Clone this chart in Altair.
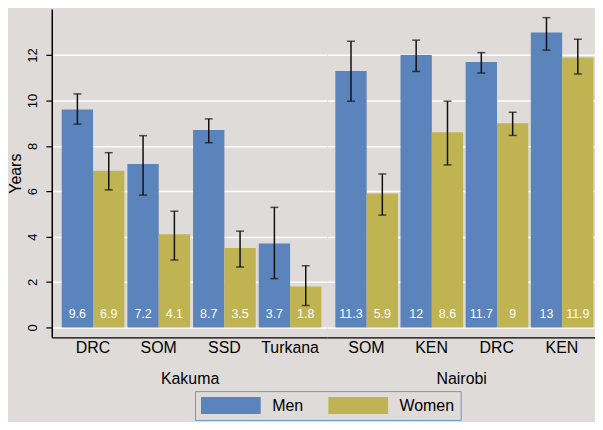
import altair as alt
import pandas as pd

places = ["Kakuma", "Kakuma", "Kakuma", "Kakuma", "Nairobi", "Nairobi", "Nairobi", "Nairobi"]
origins = ["DRC", "SOM", "SSD", "Turkana", "SOM", "KEN", "DRC", "KEN"]
sexes = ["Men", "Women"]
men = [9.6, 7.2, 8.7, 3.7, 11.3, 12, 11.7, 13]
women = [6.9, 4.1, 3.5, 1.8, 5.9, 8.6, 9, 11.9]
men_lo = [8.96, 5.83, 8.14, 2.15, 9.97, 11.28, 11.21, 12.22]
men_hi = [10.29, 8.45, 9.19, 5.29, 12.61, 12.66, 12.11, 13.65]
women_lo = [6.06, 2.97, 2.66, 0.96, 4.95, 7.16, 8.46, 11.17]
women_hi = [7.70, 5.12, 4.24, 2.72, 6.76, 9.97, 9.48, 12.70]
y_ticks = [0, 2, 4, 6, 8, 10, 12]

rows = []
for i in range(len(origins)):
    key = f"{i}:{origins[i]}"
    rows.append(dict(place=places[i], key=key, sex="Men", value=men[i], lo=men_lo[i], hi=men_hi[i]))
    rows.append(dict(place=places[i], key=key, sex="Women", value=women[i], lo=women_lo[i], hi=women_hi[i]))
df = pd.DataFrame(rows)

BG = "#DFDBD8"
FONT = "Liberation Sans"
y_scale = alt.Scale(domain=[-0.44, 14.03], nice=False, zero=False)
color_scale = alt.Scale(domain=sexes, range=["#5A84BB", "#C0B452"])


def panel(place, show_y, width, pad_outer, align):
    sub = df[df["place"] == place]
    x_enc = alt.X(
        "key:N",
        scale=alt.Scale(paddingInner=0.0455, paddingOuter=pad_outer, align=align),
        axis=alt.Axis(
            title=place, labelExpr="split(datum.label, ':')[1]", labelAngle=0, ticks=False,
            labelFontSize=16, labelPadding=2, labelColor="black", domainColor="black",
            domainWidth=1.5, grid=False, titleFontSize=16, titleFontWeight="normal",
            titleColor="black", titlePadding=15,
        ),
    )
    xo_enc = alt.XOffset("sex:N", scale=alt.Scale(paddingInner=0, paddingOuter=0))
    if show_y:
        y_axis = alt.Axis(
            values=y_ticks, labelAngle=270, labelAlign="center", labelBaseline="bottom",
            labelFontSize=13, labelPadding=6, labelColor="black", tickSize=6,
            tickColor="black", tickWidth=1.2, domainColor="black", domainWidth=1.5,
            grid=True, gridColor="white", gridWidth=1.5, title="Years",
            titleFontSize=16, titleFontWeight="normal", titlePadding=3, titleColor="black",
        )
    else:
        y_axis = alt.Axis(
            values=y_ticks, labels=False, ticks=False, domain=False, grid=True,
            gridColor="white", gridWidth=1.5, title=None,
        )
    base = alt.Chart(sub)
    bars = base.mark_bar().encode(
        x=x_enc,
        xOffset=xo_enc,
        y=alt.Y("value:Q", scale=y_scale, axis=y_axis),
        y2=alt.datum(0),
        color=alt.Color(
            "sex:N", scale=color_scale,
            legend=alt.Legend(
                orient="none", legendX=144, legendY=384, direction="horizontal", title=None,
                symbolType="M-3.53,-1L3.53,-1L3.53,1L-3.53,1Z", symbolSize=289,
                symbolOffset=21.5, symbolStrokeWidth=0, labelFontSize=16, labelOffset=33,
                columnPadding=24, padding=6, strokeColor="#6E95CE", fillColor=BG,
                labelColor="black",
            ),
        ),
    )
    rules = base.mark_rule(color="#111111", strokeWidth=1.5).encode(
        x=alt.X("key:N"), xOffset=alt.XOffset("sex:N"), y="lo:Q", y2="hi:Q"
    )
    caps_lo = base.mark_tick(color="#111111", size=8, thickness=1.5).encode(
        x=alt.X("key:N"), xOffset=alt.XOffset("sex:N"), y="lo:Q"
    )
    caps_hi = base.mark_tick(color="#111111", size=8, thickness=1.5).encode(
        x=alt.X("key:N"), xOffset=alt.XOffset("sex:N"), y="hi:Q"
    )
    labels = base.mark_text(color="white", fontSize=12.5, dy=-13, baseline="middle").encode(
        x=alt.X("key:N"), xOffset=alt.XOffset("sex:N"), y=alt.datum(0),
        text=alt.Text("value:Q", format="~g"),
    )
    return alt.layer(bars, rules, caps_lo, caps_hi, labels).properties(width=width, height=330)


chart = alt.hconcat(
    panel("Kakuma", True, 277, 0.1212, 0.625),
    panel("Nairobi", False, 269, 0.0763, 0.8),
    spacing=0,
).properties(padding=0).configure(background=BG, font=FONT).configure_view(stroke=None, fill=BG)

chart.save("out.html", embed_options={"renderer": "svg", "actions": False})
